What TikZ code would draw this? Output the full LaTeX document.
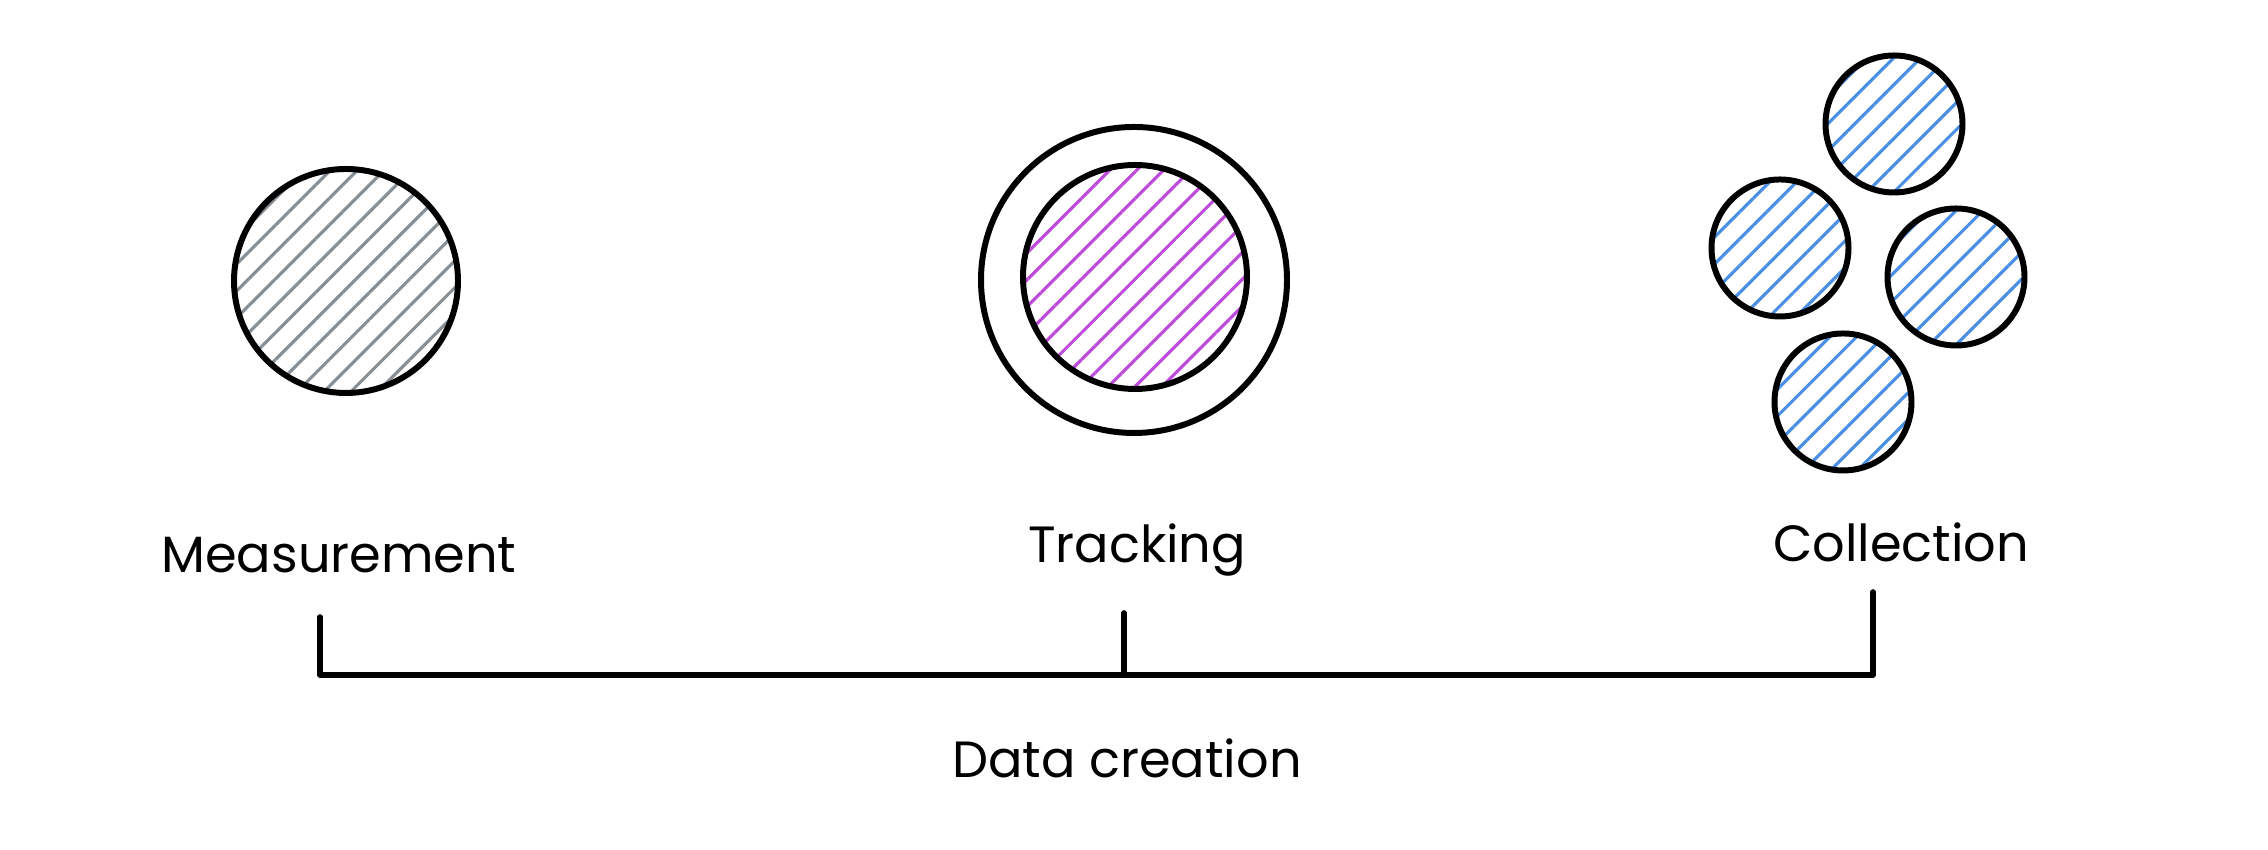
\documentclass[tikz,border=0pt]{standalone}
\usepackage{fontspec}
\setmainfont{Poppins}
\usetikzlibrary{patterns.meta}
\definecolor{hatchgray}{HTML}{868E96}
\definecolor{hatchviolet}{HTML}{BE4BDB}
\definecolor{hatchblue}{HTML}{4A8FE3}
\begin{document}
\begin{tikzpicture}
      \tikzset{disc/.style={draw, circle, line width=1.7pt, inner sep=0pt},
               hatched/.style={pattern={Lines[angle=45, distance=0.19cm, line width=0.9pt]}, pattern color=#1},
               stage/.style={anchor=base, font=\fontsize{14.5}{18}\selectfont},
               axis/.style={line width=1.6pt, line cap=round, line join=round}}
      \useasboundingbox (0,0) rectangle (22.68,8.5);
%% Discs
	%maaling
      	\node[disc, hatched=hatchgray, minimum size=2.24cm] (meas) at (3.46,5.69) {};
	%sporing
      	\node[disc, minimum size=3.06cm] (trackout) at (11.34,5.70) {};
      	\node[disc, hatched=hatchviolet, minimum size=2.24cm] (trackin) at (11.35,5.73) {};
	%samling
      	\node[disc, hatched=hatchblue, minimum size=1.37cm] (colltop) at (18.94,7.26) {};
      	\node[disc, hatched=hatchblue, minimum size=1.37cm] (collleft) at (17.80,6.02) {};
      	\node[disc, hatched=hatchblue, minimum size=1.37cm] (collright) at (19.56,5.73) {};
      	\node[disc, hatched=hatchblue, minimum size=1.37cm] (collbot) at (18.43,4.48) {};
%% Labels
      	\node[stage] (lmeas) at (3.39,2.77) {Measurement};
      	\node[stage] (ltrack) at (11.37,2.87) {Tracking};
      	\node[stage] (lcoll) at (19.01,2.88) {Collection};
      	\node[stage] (ldata) at (11.27,0.72) {Data creation};
%Timeline
      	\coordinate (t1) at (3.20,1.75);
      	\coordinate (t1top) at (3.20,2.33);
      	\coordinate (t2) at (11.24,1.75);
      	\coordinate (t2top) at (11.24,2.37);
      	\coordinate (t3) at (18.73,1.75);
      	\coordinate (t3top) at (18.73,2.58);
		\draw [axis] (t1top) -- (t1) -- (t3) -- (t3top);
		\draw [axis] (t2top) -- (t2);
\end{tikzpicture}
\end{document}
